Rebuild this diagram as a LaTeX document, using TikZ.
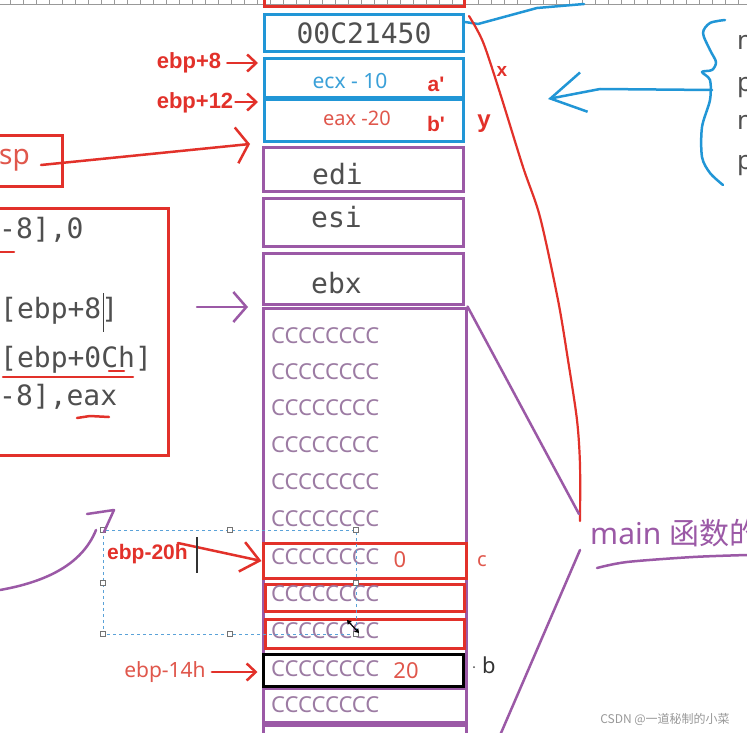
\documentclass[tikz,border=0pt]{standalone}
\usepackage{fontspec}
\setmainfont{Noto Sans}
\newfontfamily\codefont{DejaVu Sans Mono}
\newfontfamily\lbfont{Liberation Sans}
\newfontfamily\cjkfont{Noto Sans CJK SC}
\usetikzlibrary{arrows.meta}
\definecolor{inkred}{HTML}{E2312A}
\definecolor{softred}{HTML}{E0574C}
\definecolor{inkblue}{HTML}{2196D6}
\definecolor{softblue}{HTML}{3AA0D8}
\definecolor{inkpurple}{HTML}{9B59A6}
\definecolor{txtgray}{HTML}{4F4F4F}
\definecolor{ccgray}{HTML}{9C7BA3}
\definecolor{selblue}{HTML}{5AA2D8}
\tikzset{
  slotbox/.style={draw,line width=3pt,minimum width=200pt,inner sep=0pt},
  blueslot/.style={slotbox,draw=inkblue},
  purpslot/.style={slotbox,draw=inkpurple},
  redslot/.style={slotbox,draw=inkred},
  codetxt/.style={font=\codefont\fontsize{28}{30}\selectfont,text=txtgray,inner sep=0pt},
  fillertxt/.style={font=\fontsize{22}{24}\selectfont,text=ccgray,inner sep=0pt,anchor=west},
  ebptxt/.style={font=\lbfont\bfseries\fontsize{22}{24}\selectfont,text=inkred,inner sep=0pt},
  marktxt/.style={font=\lbfont\bfseries\fontsize{21}{23}\selectfont,text=inkred,inner sep=0pt},
  valtxt/.style={font=\fontsize{22}{24}\selectfont,text=softred,inner sep=0pt},
  pentxt/.style={font=\fontsize{26}{28}\selectfont,text=txtgray,inner sep=0pt,anchor=west},
  inkline/.style={line width=2.5pt,line cap=round,line join=round},
  redarrow/.style={inkline,inkred,-{Straight Barb[length=9pt,width=17pt]}},
  rulerline/.style={line width=0.8pt,black!40},
  handle/.style={draw=black!55,fill=white,line width=0.6pt,minimum size=5pt,inner sep=0pt},
}

\begin{document}
\begin{tikzpicture}[x=1pt,y=-1pt]
  \useasboundingbox (0,0) rectangle (747,733);
  \clip (0,0) rectangle (747,733);
  \fill[white] (0,0) rectangle (747,733);

  % ruler along the top
  \draw[rulerline] (0,4.5) -- (747,4.5);
  \foreach \x in {10,23,...,747} \draw[rulerline] (\x,0) -- (\x,4.5);

  % stack frame, top part
  \node[redslot,minimum height=38pt] (prev) at (364,-12) {};
  \node[blueslot,minimum height=37pt,minimum width=199pt] (ret) at (364,33) {};
  \node[blueslot,minimum height=39pt,minimum width=199pt] (argA) at (364,78.5) {};
  \node[blueslot,minimum height=42pt,minimum width=199pt] (argB) at (364,121) {};
  \node[purpslot,minimum height=44pt] (edi) at (363.5,169.5) {};
  \node[purpslot,minimum height=48pt] (esi) at (363.5,222.5) {};
  \node[purpslot,minimum height=51.5pt] (ebx) at (363.5,279) {};

  % locals filled with CC
  \node[purpslot,minimum height=452pt,minimum width=203pt] (locals) at (364.5,534) {};
  \node[purpslot,minimum height=34pt,minimum width=203pt] (rowA) at (364.5,705) {};
  \node[purpslot,minimum height=36pt,minimum width=203pt] (rowB) at (364.5,743) {};
  \node[redslot,minimum height=35pt,minimum width=203pt] (slotc) at (364.5,561) {};
  \node[redslot,minimum height=26.5pt,minimum width=199pt] (slotd) at (364.5,597.75) {};
  \node[redslot,minimum height=28.5pt,minimum width=199pt] (slote) at (364.5,633.75) {};
  \node[slotbox,draw=black,minimum height=32pt] (slotb) at (363,670) {};
  \foreach \y [count=\i] in {336,372,408,445,482,519,557,594,631,669,705}
    \node[fillertxt] (cc\i) at (271,\y) {CCCCCCCC};

  % slot texts
  \node[codetxt] (retval) at (364,33) {00C21450};
  \node[font=\fontsize{21}{23}\selectfont,text=softblue,inner sep=0pt] (ecxval) at (350,81) {ecx - 10};
  \node[marktxt] (aprime) at (436,84) {a\char39};
  \node[font=\fontsize{20}{22}\selectfont,text=softred,inner sep=0pt] (eaxval) at (357,118) {eax -20};
  \node[marktxt] (bprime) at (436,124) {b\char39};
  \node[codetxt,anchor=base west] (editxt) at (312,185) {edi};
  \node[codetxt,anchor=base west] (esitxt) at (311,227) {esi};
  \node[codetxt,anchor=base west] (ebxtxt) at (311,293) {ebx};
  \node[valtxt] (cval) at (400,560) {0};
  \node[valtxt,font=\fontsize{20}{22}\selectfont] (cname) at (482,561) {c};
  \node[valtxt] (bval) at (406,671) {20};
  \node[font=\fontsize{22}{24}\selectfont,text=black!80,inner sep=0pt] (bname) at (489,665) {b};
  \fill[black!70] (474,667) circle (1pt);
  \node[marktxt,font=\lbfont\bfseries\fontsize{24}{26}\selectfont] (ymark) at (484,124) {y};
  \node[marktxt,font=\lbfont\bfseries\fontsize{19}{21}\selectfont] (xmark) at (502,71) {x};

  % offsets from ebp
  \node[ebptxt] (off8) at (189,63) {ebp+8};
  \node[ebptxt] (off12) at (195,103) {ebp+12};
  \draw[redarrow] ([xshift=6pt]off8.east) -- ([xshift=-5pt]off8.east -| argA.west);
  \draw[redarrow] ([xshift=2pt,yshift=1pt]off12.east) -- ([xshift=-5pt,yshift=1pt]off12.east -| argB.west);
  \node[ebptxt,anchor=west,font=\lbfont\bfseries\fontsize{21}{23}\selectfont] (off20) at (107,554) {ebp-20h};
  \node[font=\fontsize{21}{23}\selectfont,text=softred,inner sep=0pt] (off14) at (165,672) {ebp-14h};
  \draw[redarrow,-{Straight Barb[length=18pt,width=30pt]}] ([xshift=-10pt,yshift=1pt]off20.north east) -- (slotc.west);
  \draw[redarrow] ([xshift=6pt]off14.east) -- ([xshift=-4pt]off14.east -| slotb.west);

  % esp box and code box on the left
  \node[draw=inkred,line width=3pt,minimum width=66pt,minimum height=50pt] (spbox) at (29,161) {};
  \node[font=\fontsize{28}{30}\selectfont,text=softred,inner sep=0pt,anchor=west] (sptxt) at (-1,160) {sp};
  \draw[inkline,inkred,-{Straight Barb[length=12pt,width=36pt]}] ([xshift=11pt,yshift=-5pt]sptxt.east) -- ([xshift=-12pt,yshift=2pt]edi.north west);
  \node[draw=inkred,line width=3pt,minimum width=173pt,minimum height=247pt] (codebox) at (82,331.5) {};
  \node[codetxt,anchor=base west] (code1) at (-1,238) {-8],0};
  \node[codetxt,anchor=base west] (code2) at (0,318) {[ebp+8]};
  \node[codetxt,anchor=base west] (code3) at (0,367) {[ebp+0Ch]};
  \node[codetxt,anchor=base west] (code4) at (-1,405) {-8],eax};
  \draw[inkline,inkred] (0,252) -- (14,252);
  \draw[inkline,inkred] (3,377) -- (133,377);
  \draw[inkline,inkred] (109,371) -- (124,371);
  \draw[inkline,inkred] (77,418) -- (90,416) -- (109,417);
  \draw[line width=1.3pt,black!75] (103.5,293) -- (103.5,332);

  % arrow at ebx
  \coordinate (ptail) at (197,307);
  \draw[inkline,inkpurple,-{Straight Barb[length=13pt,width=30pt]}] (ptail) -- ([xshift=-14pt]ptail -| ebx.west);

  % selection frame round ebp-20h
  \draw[selblue,line width=1pt,dashed] (103,530) rectangle (356,634);
  \foreach \hx/\hy [count=\k] in {103/530,230/530,356/530,103/583,356/583,103/634,230/634,356/634}
    \node[handle] (hd\k) at (\hx,\hy) {};
  \draw[line width=1.3pt,black!80] (197,537) -- (197,573);
  \draw[line width=1.2pt,black,{Triangle[length=4pt,width=5pt]}-{Triangle[length=4pt,width=5pt]}] (347,620) -- (359,633);

  % purple scribble bottom left
  \draw[inkline,inkpurple] (0,590) .. controls (45,582) and (82,565) .. (96,530);
  \draw[inkline,inkpurple] (87,514) -- (114,510) -- (104,532);

  % right side marks
  \coordinate (blueend) at (584,4);
  \draw[inkline,inkblue] ([yshift=11pt]ret.east) -- (478,24) -- (537,8) -- (blueend);
  \node[font=\fontsize{30}{32}\selectfont,text=inkpurple,inner sep=0pt,anchor=west] (mainlbl) at (590,533) {main {\cjkfont 函数的}};
  \coordinate (xtop) at (469,16);
  \coordinate (xfoot) at (580,521);
  \draw[inkline,inkred,line width=2.2pt] plot[smooth] coordinates {(xtop) (483,42) (500,93) (523,167) (540,217) (558,300) (568,360) (577,420) (580,465) (xfoot)};
  \coordinate (pfoot) at (579,514);
  \draw[inkline,inkpurple] (locals.north east) -- (pfoot);
  \coordinate (qtop) at (580,550);
  \coordinate (qfoot) at (498,740);
  \draw[inkline,inkpurple] (qtop) -- (qfoot);
  \draw[inkline,inkpurple] plot[smooth] coordinates {(597,568) (627,562) (693,557) (747,555)};

  % blue brace and arrow
  \draw[inkline,inkblue] plot[smooth] coordinates {(725,20) (710,23) (703,33) (710,50) (716,62) (712,70) (702,72) (710,80) (710,100) (702,127) (702,157) (710,173) (723,185)};
  \coordinate (bracemid) at (712,90);
  \coordinate (bluetip) at (548,99);
  \draw[inkline,inkblue,-{Straight Barb[length=34pt,width=40pt]}] (bracemid) -- (600,89) -- (bluetip);
  \node[pentxt] (colm1) at (737,42) {m};
  \node[pentxt] (colp1) at (737,88) {p};
  \node[pentxt] (colm2) at (737,122) {m};
  \node[pentxt] (colp2) at (737,166) {p};

  \node[font=\cjkfont\fontsize{12}{14}\selectfont,text=black!40,inner sep=0pt] (wmark) at (665,719) {CSDN @一道秘制的小菜};
\end{tikzpicture}
\end{document}
